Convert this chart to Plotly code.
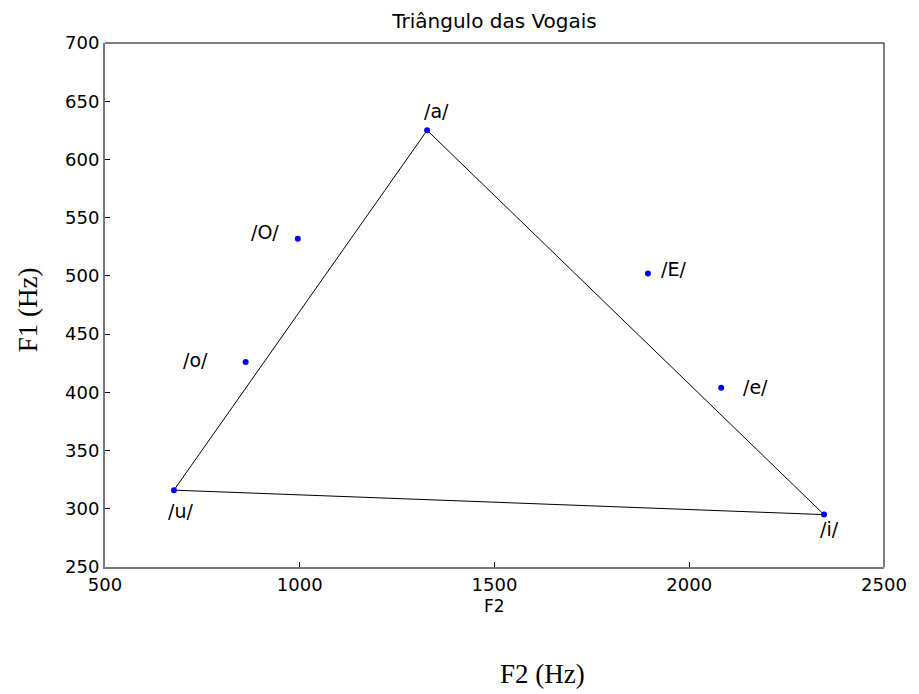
import plotly.graph_objects as go

# Data
vowels = ["/a/", "/E/", "/e/", "/i/", "/O/", "/o/", "/u/"]
f2_hz = [1327, 1894, 2082, 2346, 995, 861, 677]
f1_hz = [625, 502, 404, 295, 532, 426, 316]
triangle_order = ["/u/", "/a/", "/i/", "/u/"]

x_ticks = [500, 1000, 1500, 2000, 2500]
y_ticks = [250, 300, 350, 400, 450, 500, 550, 600, 650, 700]

# label pixel offsets (style)
label_offsets = {
    "/a/": (9, 19), "/E/": (26, 5), "/e/": (34, 1), "/i/": (5, -14),
    "/O/": (-33, 7), "/o/": (-50, 2), "/u/": (7, -21),
}

tri_x = [f2_hz[vowels.index(v)] for v in triangle_order]
tri_y = [f1_hz[vowels.index(v)] for v in triangle_order]

fig = go.Figure()
fig.add_trace(go.Scatter(x=tri_x, y=tri_y, mode="lines",
                         line=dict(color="black", width=1), hoverinfo="skip",
                         showlegend=False))
fig.add_trace(go.Scatter(x=f2_hz, y=f1_hz, mode="markers",
                         marker=dict(color="#0000ff", size=6),
                         text=vowels, showlegend=False))

font = "DejaVu Sans, Liberation Sans, Arial, sans-serif"
serif = "Liberation Serif, Times New Roman, serif"

for v, x, y in zip(vowels, f2_hz, f1_hz):
    dx, dy = label_offsets[v]
    fig.add_annotation(x=x, y=y, text=v, showarrow=False, xshift=dx, yshift=dy,
                       font=dict(family=font, size=19, color="black"))

fig.add_annotation(xref="paper", yref="paper", x=0.5, y=0, yshift=-39,
                   text="F2", showarrow=False, yanchor="middle",
                   font=dict(family=font, size=17, color="black"))
fig.add_annotation(xref="paper", yref="paper", x=0.562, y=0, yshift=-107,
                   text="F2 (Hz)", showarrow=False, yanchor="middle",
                   font=dict(family=serif, size=27, color="black"))
fig.add_annotation(xref="paper", yref="paper", x=0, xshift=-77, y=0.49,
                   text="F1 (Hz)", showarrow=False, textangle=-90,
                   xanchor="center", yanchor="middle",
                   font=dict(family=serif, size=27, color="black"))

# top & right box lines in black
fig.add_shape(type="line", xref="paper", yref="paper", x0=0, x1=1, y0=1, y1=1,
              line=dict(color="black", width=1))
fig.add_shape(type="line", xref="paper", yref="paper", x0=1, x1=1, y0=0, y1=1,
              line=dict(color="black", width=1))

fig.update_layout(
    width=919, height=694,
    margin=dict(l=105, r=29, t=43, b=127),
    plot_bgcolor="white", paper_bgcolor="white",
    title=dict(text="Triângulo das Vogais", x=0.5, xref="paper",
               y=1 - 21 / 694, yref="container", yanchor="middle",
               font=dict(family=font, size=20, color="black")),
    xaxis=dict(range=[500, 2500], tickvals=x_ticks, ticks="inside", ticklen=5,
               tickcolor="black", showgrid=False, zeroline=False,
               showline=True, linecolor="#7a7a7a", linewidth=2,
               tickfont=dict(family=font, size=18, color="black")),
    yaxis=dict(range=[250, 700], tickvals=y_ticks, ticks="inside", ticklen=5,
               tickcolor="black", showgrid=False, zeroline=False,
               showline=True, linecolor="#7a7a7a", linewidth=2,
               tickfont=dict(family=font, size=18, color="black")),
)

fig.write_html("out.html")
